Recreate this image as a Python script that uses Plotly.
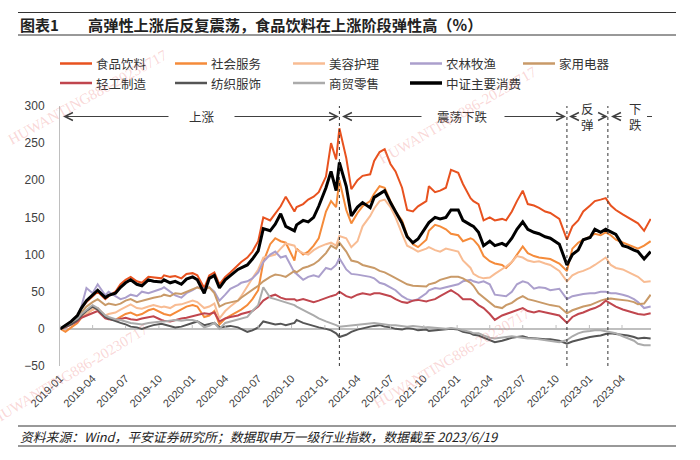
import plotly.graph_objects as go

# ---------------- data ----------------
dates = [
    "2019-01-02", "2019-01-16", "2019-02-01", "2019-02-18", "2019-03-01", "2019-03-15",
    "2019-04-01", "2019-04-15", "2019-05-06", "2019-05-15", "2019-06-03", "2019-06-17",
    "2019-07-01", "2019-07-15", "2019-08-01", "2019-08-15", "2019-09-02", "2019-09-16",
    "2019-10-08", "2019-10-15", "2019-11-01", "2019-11-15", "2019-12-02", "2019-12-16",
    "2020-01-02", "2020-01-15", "2020-02-03", "2020-02-17", "2020-03-02", "2020-03-16",
    "2020-04-01", "2020-04-15", "2020-05-06", "2020-05-15", "2020-06-01", "2020-06-15",
    "2020-07-01", "2020-07-15", "2020-08-03", "2020-08-17", "2020-09-01", "2020-09-15",
    "2020-10-09", "2020-10-15", "2020-11-02", "2020-11-16", "2020-12-01", "2020-12-15",
    "2021-01-04", "2021-01-18", "2021-02-01", "2021-02-10", "2021-03-01", "2021-03-15",
    "2021-04-01", "2021-04-15", "2021-05-06", "2021-05-17", "2021-06-01", "2021-06-15",
    "2021-07-01", "2021-07-15", "2021-08-02", "2021-08-16", "2021-09-01", "2021-09-15",
    "2021-10-08", "2021-10-15", "2021-11-01", "2021-11-15", "2021-12-01", "2021-12-15",
    "2022-01-04", "2022-01-17", "2022-02-07", "2022-02-15", "2022-03-01", "2022-03-15",
    "2022-04-01", "2022-04-15", "2022-05-05", "2022-05-16", "2022-06-01", "2022-06-15",
    "2022-07-01", "2022-07-15", "2022-08-01", "2022-08-15", "2022-09-01", "2022-09-15",
    "2022-10-10", "2022-10-31", "2022-11-15", "2022-12-01", "2022-12-15",
    "2023-01-03", "2023-01-16", "2023-02-01", "2023-02-15", "2023-03-01", "2023-03-15",
    "2023-04-03", "2023-04-17", "2023-05-04", "2023-05-15", "2023-06-01", "2023-06-19",
]

food_beverage = [
    0, 5, 10, 18, 28, 36, 44, 50, 40, 44, 50, 60, 66, 70, 64, 62, 70, 69, 68, 72, 70, 71, 68, 74,
    75, 72, 55, 72, 76, 60, 70, 76, 86, 90, 96, 104, 118, 150, 146, 155, 165, 178, 158, 164, 168, 174, 178, 184,
    205, 250, 228, 270, 230, 188, 200, 206, 208, 226, 238, 242, 222, 212, 190, 160, 158, 165, 172, 192, 184, 186, 190, 214,
    210, 195, 176, 172, 168, 146, 150, 146, 148, 146, 158, 172, 186, 168, 166, 163, 158, 156, 148, 120, 138, 146, 158,
    166, 172, 174, 176, 166, 160, 154, 150, 146, 142, 132, 148,
]
social_services = [
    0, -4, 2, 8, 15, 20, 26, 28, 15, 14, 12, 16, 20, 22, 18, 20, 25, 27, 22, 20, 18, 22, 26, 30,
    32, 30, 16, 18, 24, 6, 14, 18, 23, 26, 32, 40, 52, 90, 114, 122, 118, 116, 92, 108, 100, 104, 112, 122,
    158, 172, 164, 200, 160, 142, 156, 165, 172, 182, 192, 190, 172, 158, 146, 126, 114, 110, 120, 132, 140, 138, 134, 128,
    126, 118, 122, 120, 112, 98, 91, 88, 86, 82, 90, 100, 111, 102, 98, 96, 95, 94, 88, 78, 108, 116, 120,
    124, 128, 126, 130, 126, 120, 116, 114, 110, 108, 112, 118,
]
beauty_care = [
    0, 2, 6, 10, 16, 20, 26, 28, 18, 20, 22, 26, 30, 33, 28, 27, 30, 32, 29, 30, 28, 32, 33, 35,
    38, 36, 28, 30, 34, 14, 24, 30, 38, 44, 58, 68, 80, 96, 98, 100, 108, 115, 112, 106, 102, 100, 106, 110,
    114, 116, 112, 125, 122, 110, 118, 138, 152, 162, 172, 174, 164, 150, 128, 112, 108, 104, 108, 110, 106, 104, 108, 106,
    104, 92, 82, 74, 70, 68, 69, 74, 80, 84, 90, 98, 96, 92, 90, 91, 88, 86, 78, 64, 72, 76, 78,
    82, 86, 92, 96, 86, 82, 80, 77, 73, 70, 63, 64,
]
agriculture = [
    0, 3, 8, 15, 30, 55, 48, 60, 45, 50, 44, 40, 42, 46, 44, 50, 48, 50, 54, 56, 50, 45, 42, 48,
    52, 56, 54, 56, 50, 38, 46, 54, 59, 62, 64, 68, 76, 90, 100, 104, 96, 98, 76, 74, 66, 70, 72, 70,
    82, 80, 86, 95, 80, 74, 73, 72, 70, 68, 62, 60, 56, 52, 44, 40, 38, 40, 48, 52, 55, 54, 56, 58,
    60, 64, 66, 64, 62, 64, 60, 46, 45, 44, 50, 60, 64, 62, 54, 56, 55, 52, 54, 40, 44, 46, 47,
    48, 48, 50, 50, 48, 48, 46, 44, 40, 36, 28, 30,
]
home_appliances = [
    0, 3, 8, 14, 22, 30, 36, 40, 32, 34, 32, 34, 38, 40, 36, 38, 41, 42, 44, 46, 44, 48, 47, 50,
    54, 56, 52, 56, 48, 30, 34, 36, 38, 42, 48, 52, 58, 64, 70, 73, 72, 70, 78, 76, 82, 84, 87, 92,
    102, 112, 108, 116, 104, 92, 90, 86, 84, 82, 78, 76, 72, 68, 64, 60, 58, 58, 57, 60, 62, 66, 68, 70,
    70, 68, 62, 58, 48, 42, 36, 30, 28, 32, 35, 40, 44, 40, 38, 36, 34, 32, 30, 21, 25, 28, 30,
    32, 35, 38, 40, 41, 40, 39, 38, 36, 33, 34, 46,
]
light_industry = [
    0, 2, 6, 10, 15, 18, 22, 24, 14, 13, 12, 14, 15, 13, 12, 14, 16, 17, 12, 11, 10, 12, 14, 15,
    17, 18, 21, 20, 22, 10, 14, 16, 18, 20, 22, 24, 30, 38, 44, 46, 42, 40, 40, 38, 40, 38, 36, 38,
    42, 44, 46, 50, 44, 42, 46, 48, 46, 48, 48, 46, 44, 40, 36, 35, 38, 39, 37, 38, 40, 44, 48, 52,
    46, 40, 40, 38, 32, 28, 20, 12, 18, 20, 23, 26, 28, 24, 22, 24, 22, 20, 18, 8, 16, 20, 22,
    26, 28, 32, 38, 34, 30, 26, 24, 22, 20, 19, 21,
]
textile_apparel = [
    0, 3, 6, 12, 18, 24, 30, 26, 16, 14, 10, 8, 6, 3, 2, 0, 3, 5, 7, 6, 4, 2, 3, 5,
    8, 10, 5, 6, 8, 2, 3, 4, 2, 0, -4, -2, 2, 10, 8, 6, 7, 5, 8, 12, 8, 6, 3, 2,
    0, -2, -6, -11, -8, -4, -1, 1, 3, 4, 5, 3, 2, 0, -1, 1, 0, -2, -1, -3, -2, -2, -1, 0,
    -1, -4, -6, -8, -9, -12, -15, -18, -16, -14, -12, -11, -10, -12, -13, -13, -14, -14, -16, -20, -17, -15, -13,
    -11, -10, -9, -7, -6, -7, -8, -9, -11, -13, -12, -13,
]
retail = [
    0, 4, 8, 14, 20, 26, 32, 28, 18, 16, 13, 12, 10, 8, 7, 6, 8, 9, 10, 10, 11, 12, 11, 12,
    12, 10, 2, 4, 8, 0, 8, 10, 12, 14, 16, 24, 32, 56, 42, 40, 38, 36, 32, 30, 26, 22, 18, 14,
    10, 8, 5, 3, 4, 5, 5, 6, 7, 8, 7, 6, 5, 5, 4, 3, 4, 3, 2, 2, 1, 1, 0, 1,
    0, -2, -4, -6, -6, -9, -12, -13, -12, -11, -10, -11, -12, -13, -13, -14, -15, -16, -18, -15, -10, -6, -4,
    -3, -2, -2, -3, -4, -6, -10, -13, -16, -20, -22, -22,
]
csi_consumer = [
    0, 5, 10, 18, 28, 38, 45, 52, 42, 45, 48, 56, 62, 66, 60, 58, 66, 64, 63, 66, 62, 64, 60, 67,
    70, 66, 48, 68, 72, 55, 66, 72, 80, 82, 86, 94, 105, 135, 132, 141, 155, 138, 132, 140, 146, 144, 150, 165,
    190, 212, 186, 224, 192, 152, 164, 170, 163, 177, 182, 186, 170, 158, 142, 124, 116, 121, 137, 143, 150, 148, 150, 160,
    160, 146, 140, 138, 130, 112, 118, 112, 115, 112, 122, 134, 144, 134, 130, 128, 124, 122, 114, 86, 100, 106, 120,
    123, 134, 130, 134, 130, 127, 112, 110, 106, 104, 94, 104,
]

series_names = ["食品饮料", "社会服务", "美容护理", "农林牧渔", "家用电器",
                "轻工制造", "纺织服饰", "商贸零售", "中证主要消费"]
series_values = [food_beverage, social_services, beauty_care, agriculture, home_appliances,
                 light_industry, textile_apparel, retail, csi_consumer]
series_colors = ["#E8521F", "#F58B3A", "#F8BC93", "#AB9FCC", "#C99A68",
                 "#C0464E", "#555555", "#ABABAB", "#000000"]
series_widths = [2, 2, 2, 2, 2, 2, 2, 2, 3]

tick_dates = ["2019-01-01", "2019-04-01", "2019-07-01", "2019-10-01", "2020-01-01", "2020-04-01",
              "2020-07-01", "2020-10-01", "2021-01-01", "2021-04-01", "2021-07-01", "2021-10-01",
              "2022-01-01", "2022-04-01", "2022-07-01", "2022-10-01", "2023-01-01", "2023-04-01"]
tick_labels = ["2019-01", "2019-04", "2019-07", "2019-10", "2020-01", "2020-04",
               "2020-07", "2020-10", "2021-01", "2021-04", "2021-07", "2021-10",
               "2022-01", "2022-04", "2022-07", "2022-10", "2023-01", "2023-04"]
y_ticks = [-50, 0, 50, 100, 150, 200, 250, 300]
phase_dates = ["2021-02-10", "2022-10-31", "2023-02-21"]

title_tag = "图表1"
title_text = "高弹性上涨后反复震荡，食品饮料在上涨阶段弹性高（%）"
source_text = "资料来源：Wind，平安证券研究所；数据取申万一级行业指数，数据截至 2023/6/19"
watermark = "HUWANTING886-20230717"

# ---------------- layout helpers ----------------
W, H = 700, 460
ML, MR, MT, MB = 60, 49, 106, 94
PW, PH = W - ML - MR, H - MT - MB
FONT = "Liberation Sans, Arial, Noto Sans CJK SC, sans-serif"
CJK = "Noto Sans CJK SC, Liberation Sans, sans-serif"


def px(x):
    return (x - ML) / PW


def py(y):
    return (H - MB - y) / PH


fig = go.Figure()
for name, vals, col, w in zip(series_names, series_values, series_colors, series_widths):
    fig.add_trace(go.Scatter(x=dates, y=vals, mode="lines", name=name,
                             line=dict(color=col, width=w), showlegend=False,
                             hoverinfo="x+y+name"))

shapes = []
annotations = []

# title block
shapes.append(dict(type="line", xref="paper", yref="paper", x0=px(18), x1=px(676),
                   y0=py(12.5), y1=py(12.5), line=dict(color="#333333", width=1)))
shapes.append(dict(type="line", xref="paper", yref="paper", x0=px(18), x1=px(676),
                   y0=py(35), y1=py(35), line=dict(color="#333333", width=1)))
annotations.append(dict(xref="paper", yref="paper", x=px(18), y=py(24), xanchor="left", yanchor="middle",
                        text="<b>" + title_tag + "</b>", showarrow=False,
                        font=dict(family=CJK, size=15, color="#222222")))
annotations.append(dict(xref="paper", yref="paper", x=px(86), y=py(24), xanchor="left", yanchor="middle",
                        text="<b>" + title_text + "</b>", showarrow=False,
                        font=dict(family=CJK, size=15.2, color="#222222")))

# footer
shapes.append(dict(type="line", xref="paper", yref="paper", x0=px(18), x1=px(676),
                   y0=py(426), y1=py(426), line=dict(color="#333333", width=1)))
shapes.append(dict(type="line", xref="paper", yref="paper", x0=px(18), x1=px(676),
                   y0=py(446), y1=py(446), line=dict(color="#333333", width=1)))
annotations.append(dict(xref="paper", yref="paper", x=px(18), y=py(436.5), xanchor="left", yanchor="middle",
                        text="<i>" + source_text + "</i>", showarrow=False,
                        font=dict(family=CJK, size=12.8, color="#222222")))

# manual legend
leg_cols = [60, 175, 293, 410, 523]
leg_rows = [63.5, 83]
for i, (name, col, w) in enumerate(zip(series_names, series_colors, series_widths)):
    cx = leg_cols[i % 5]
    cy = leg_rows[i // 5]
    shapes.append(dict(type="line", xref="paper", yref="paper", x0=px(cx), x1=px(cx + 32),
                       y0=py(cy), y1=py(cy), line=dict(color=col, width=w + 0.5)))
    annotations.append(dict(xref="paper", yref="paper", x=px(cx + 34), y=py(cy), xanchor="left",
                            yanchor="middle", text=name, showarrow=False,
                            font=dict(family=CJK, size=12.5, color="#333333")))

# phase separators
for d in phase_dates:
    shapes.append(dict(type="line", xref="x", yref="y", x0=d, x1=d, y0=-50, y1=304,
                       line=dict(color="#333333", width=1, dash="3px,3px")))

# small tick marks on zero line
for d in tick_dates:
    shapes.append(dict(type="line", xref="x", yref="paper", x0=d, x1=d,
                       y0=py(328.5), y1=py(325), line=dict(color="#BFBFBF", width=1)))

# phase arrows (tip pixel x, tail offset)
arrow_y = 116.5
arrows = [(63, 107), (339, -106), (342, 81), (566, -63), (569, 9), (608, -8), (611, 12)]
for tip, off in arrows:
    annotations.append(dict(xref="paper", yref="paper", x=px(tip), y=py(arrow_y), ax=off, ay=0,
                            text="", showarrow=True, arrowhead=5, arrowsize=1.6, arrowwidth=1,
                            arrowcolor="#404040", standoff=0))
shapes.append(dict(type="line", xref="paper", yref="paper", x0=px(647), x1=px(652),
                   y0=py(arrow_y), y1=py(arrow_y), line=dict(color="#404040", width=1)))

phase_labels = [("上涨", 202), ("震荡下跌", 462), ("反<br>弹", 587), ("下<br>跌", 635)]
for t, cx in phase_labels:
    annotations.append(dict(xref="paper", yref="paper", x=px(cx), y=py(arrow_y), xanchor="center",
                            yanchor="middle", text=t, showarrow=False,
                            font=dict(family=CJK, size=12.5, color="#333333")))

# watermark text
for cx, cy, ang in [(88, 97, -29), (458, 115, -30), (452, 358, -31), (70, 374, -31)]:
    annotations.append(dict(xref="paper", yref="paper", x=px(cx), y=py(cy), xanchor="center",
                            yanchor="middle", text=watermark, showarrow=False, textangle=ang,
                            font=dict(family="Liberation Serif, serif", size=15,
                                      color="rgba(236,120,120,0.30)")))

fig.update_layout(
    width=W, height=H,
    margin=dict(l=ML, r=MR, t=MT, b=MB, pad=0),
    paper_bgcolor="white", plot_bgcolor="white",
    font=dict(family=FONT, color="#333333"),
    shapes=shapes, annotations=annotations,
    showlegend=False,
    xaxis=dict(type="date", range=["2019-01-01", "2023-06-20"], tickmode="array",
               tickvals=tick_dates, ticktext=tick_labels, tickangle=-45,
               tickfont=dict(family=FONT, size=11, color="#404040"),
               showgrid=False, showline=False, zeroline=False, ticks="",
               automargin=False, ticklabelstandoff=3),
    yaxis=dict(range=[-50, 300], tickmode="array", tickvals=y_ticks,
               tickfont=dict(family=FONT, size=12, color="#404040"),
               showgrid=False, showline=True, linecolor="#BFBFBF", linewidth=1,
               zeroline=True, zerolinecolor="#BFBFBF", zerolinewidth=1.5,
               ticks="", automargin=False, ticklabelstandoff=12),
)

fig.write_html("out.html", config={"displayModeBar": False},
               post_script="document.body.style.margin='0';")
